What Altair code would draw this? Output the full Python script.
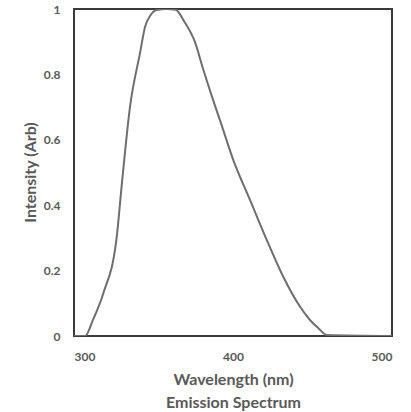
import altair as alt
import pandas as pd

wavelength = [300, 306.9, 312, 318.4, 326.8, 330, 335.2, 341.5, 344.7, 348, 352, 358, 364,
              368.8, 376, 381.3, 387.6, 391.8, 400.2, 410.7, 421.2, 431.6, 442.1, 448.4,
              453.7, 459, 500]
intensity = [0, 0, 0.05, 0.13, 0.30, 0.46, 0.70, 0.865, 0.946, 0.98, 0.997, 1.0, 0.998,
             0.966, 0.90, 0.815, 0.72, 0.66, 0.538, 0.416, 0.294, 0.181, 0.09, 0.049,
             0.024, 0.003, 0]
x_ticks = [300, 400, 500]
y_ticks = [0, 0.2, 0.4, 0.6, 0.8, 1]

df = pd.DataFrame({"wl": wavelength, "I": intensity})

FONT = "Lato"
GRAY = "#595959"

chart = alt.Chart(df).mark_line(
    color="#6e6e6e", strokeWidth=2, interpolate="monotone", clip=True
).encode(
    x=alt.X("wl:Q", scale=alt.Scale(domain=[300, 500], nice=False, zero=False),
            axis=alt.Axis(values=x_ticks, ticks=False, domain=False, grid=False,
                          labelFont=FONT, labelFontSize=12, labelFontWeight="bold",
                          labelColor=GRAY, labelPadding=15,
                          title=["Wavelength (nm)", "Emission Spectrum"],
                          titleFont=FONT, titleFontSize=16, titleFontWeight="bold",
                          titleColor=GRAY, titleLineHeight=23, titleBaseline="top",
                          titleY=35)),
    y=alt.Y("I:Q", scale=alt.Scale(domain=[0, 1], nice=False),
            axis=alt.Axis(values=y_ticks, format="~g", ticks=False, domain=False, grid=False,
                          labelFont=FONT, labelFontSize=12, labelFontWeight="bold",
                          labelColor=GRAY, labelPadding=14,
                          title="Intensity (Arb)",
                          titleFont=FONT, titleFontSize=16, titleFontWeight="bold",
                          titleColor=GRAY, titleX=-44, titleY=163, titleAngle=-90,
                          titleBaseline="middle")),
).properties(
    width=318, height=327,
    autosize=alt.AutoSizeParams(type="none"),
    padding={"left": 74, "top": 9, "right": 19, "bottom": 76},
).configure(
    background="white"
).configure_view(
    stroke="#3a3a3a", strokeWidth=2
)

chart.save("out.html", embed_options={"renderer": "svg", "actions": False})
